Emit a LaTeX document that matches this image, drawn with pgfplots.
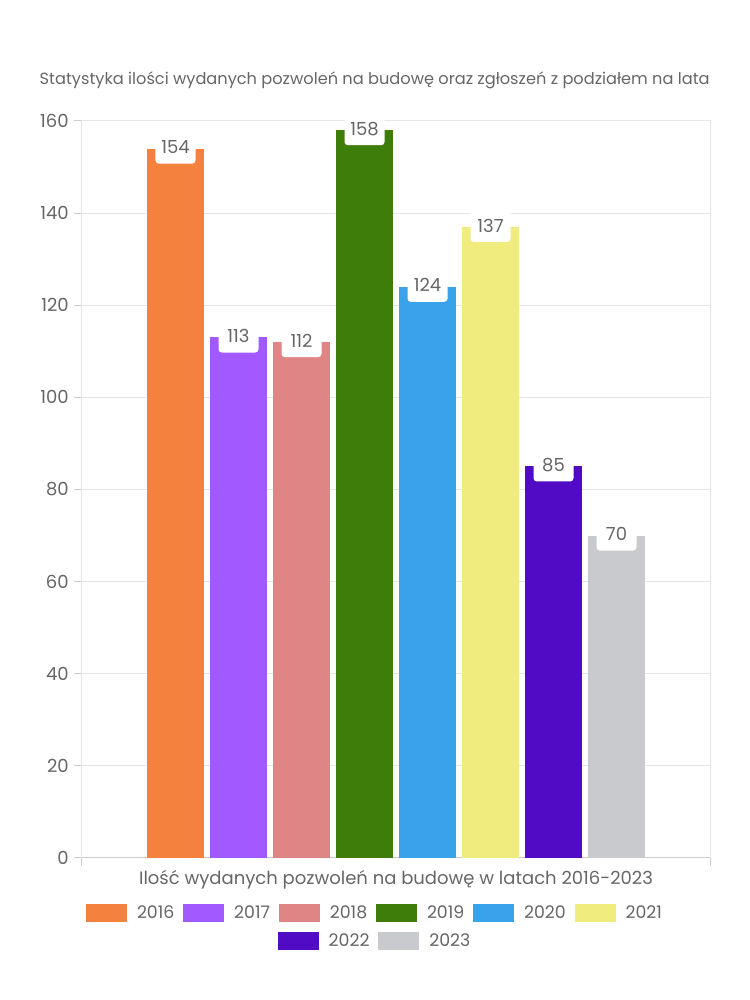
\documentclass[border=0pt]{standalone}
\usepackage{pgfplots}
\pgfplotsset{compat=1.18}
\usepackage{fontspec}
\setmainfont{Poppins}
\definecolor{txt}{HTML}{666666}
\definecolor{gridc}{HTML}{E6E6E6}
\definecolor{axc}{HTML}{CCCCCC}
\definecolor{c2016}{HTML}{F5813F}
\definecolor{c2017}{HTML}{A259FF}
\definecolor{c2018}{HTML}{E08585}
\definecolor{c2019}{HTML}{3F7D0B}
\definecolor{c2020}{HTML}{38A3EB}
\definecolor{c2021}{HTML}{F0EC7E}
\definecolor{c2022}{HTML}{510BC4}
\definecolor{c2023}{HTML}{C9CACE}
\pgfplotsset{
  mylegend/.style={
    legend image code/.code={\fill[##1,draw=none] (0pt,-6.75pt) rectangle (30.75pt,6.75pt);},
    legend style={draw=none, fill=none, inner sep=0pt, outer sep=0pt,
      font=\fontsize{13pt}{16pt}\selectfont, text=txt,
      nodes={inner sep=0pt, text=txt},
      /tikz/every odd column/.append style={column sep=7.5pt},
      /tikz/every even column/.append style={column sep=6.6pt}},
    legend cell align=left,
  }
}
\begin{document}
\begin{tikzpicture}
\path[use as bounding box] (0,0) rectangle (562.5pt,750pt);
\node[text=txt, font=\fontsize{12.15pt}{14pt}\selectfont] at (281pt,690pt) {Statystyka ilości wydanych pozwoleń na budowę oraz zgłoszeń z podziałem na lata};
\begin{axis}[
  at={(61.5pt,106.5pt)}, anchor=south west,
  scale only axis, width=471pt, height=552.75pt,
  xmin=-1, xmax=1, ymin=0, ymax=160,
  ytick={0,20,...,160},
  xtick={-1,1}, xticklabels={},
  tick align=outside, ytick pos=left, xtick pos=bottom,
  major tick length=6pt,
  tick style={draw=axc, line width=0.75pt},
  axis line style={draw=gridc, line width=0.75pt},
  ymajorgrids, grid style={draw=gridc, line width=0.75pt},
  extra y ticks={0}, extra y tick labels={}, extra y tick style={grid style={draw=axc, line width=0.75pt}, major tick length=0pt},
  /pgf/number format/assume math mode=true,
  yticklabel style={font=\fontsize{13.5pt}{16pt}\selectfont, text=txt, inner sep=0pt, xshift=-3.75pt},
  ybar=4.5pt, bar width=42.75pt,
  clip=false,
  nodes near coords,
  every node near coord/.append style={font=\fontsize{13.5pt}{16pt}\selectfont, text=txt, fill=white, rounded corners=2.5pt, anchor=center, minimum width=30pt, minimum height=24.75pt, inner sep=0pt, yshift=1.1pt},
  xlabel={Ilość wydanych pozwoleń na budowę w latach 2016-2023},
  every axis x label/.style={at={(axis description cs:0.5,0)}, anchor=center, yshift=-16.5pt, font=\fontsize{13.5pt}{16pt}\selectfont, text=txt},
  mylegend,
  legend columns=6,
  legend style={at={(axis description cs:0.465,0)}, anchor=center, yshift=-41.25pt},
]
\addplot[fill=c2016, draw=none] coordinates {(0,154)};
\addplot[fill=c2017, draw=none] coordinates {(0,113)};
\addplot[fill=c2018, draw=none] coordinates {(0,112)};
\addplot[fill=c2019, draw=none] coordinates {(0,158)};
\addplot[fill=c2020, draw=none] coordinates {(0,124)};
\addplot[fill=c2021, draw=none] coordinates {(0,137)};
\addplot[fill=c2022, draw=none] coordinates {(0,85)};
\addplot[fill=c2023, draw=none] coordinates {(0,70)};
\legend{2016,2017,2018,2019,2020,2021}
\end{axis}
\begin{axis}[
  at={(61.5pt,106.5pt)}, anchor=south west,
  scale only axis, width=471pt, height=552.75pt,
  xmin=-1, xmax=1, ymin=0, ymax=160, hide axis,
  mylegend, legend columns=2,
  legend style={at={(axis description cs:0.465,0)}, anchor=center, yshift=-62.25pt},
]
\addlegendimage{fill=c2022}
\addlegendimage{fill=c2023}
\legend{2022,2023}
\end{axis}
\end{tikzpicture}
\end{document}
